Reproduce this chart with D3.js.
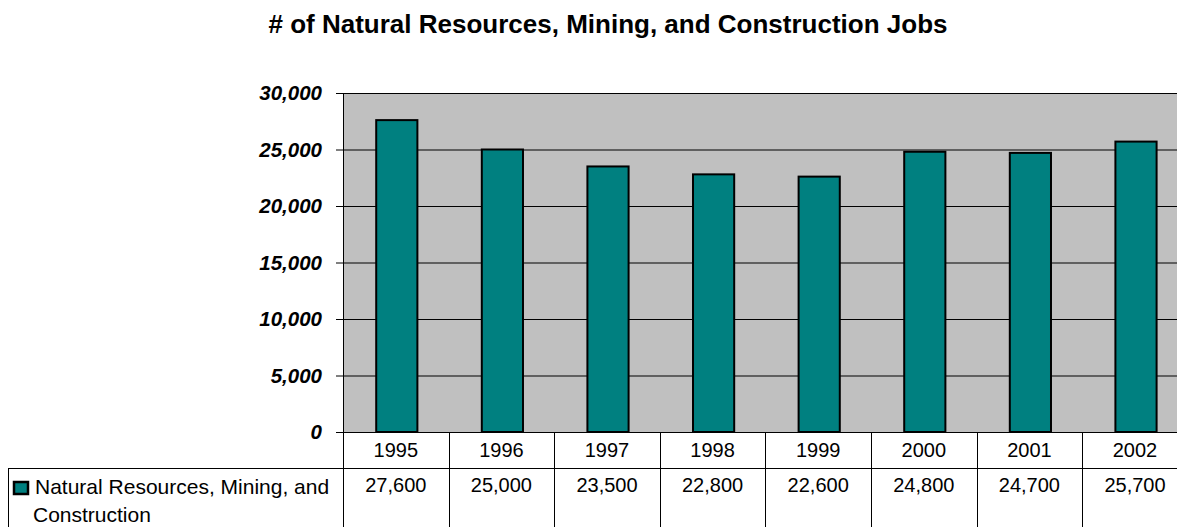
<!DOCTYPE html>
<html>
<head>
<meta charset="utf-8">
<script src="https://cdn.jsdelivr.net/npm/d3@7"></script>
<style>
  body { margin: 0; background: #fff; overflow: hidden; }
  svg { display: block; font-family: Arial, "Liberation Sans", sans-serif; }
</style>
</head>
<body>
<svg id="chart" width="1177" height="527"></svg>
<script>
const years = ["1995", "1996", "1997", "1998", "1999", "2000", "2001", "2002"]
const jobs = [27600, 25000, 23500, 22800, 22600, 24800, 24700, 25700]
const yTicks = [0, 5000, 10000, 15000, 20000, 25000, 30000]
const seriesName = ["Natural Resources, Mining, and", "Construction"]

const svg = d3.select("#chart")

const plotLeft = 343, plotTop = 93, plotBottom = 432,
      bandW = 105.6, plotRight = plotLeft + bandW * years.length

let x = d3.scaleBand().domain(years).range([plotLeft, plotRight]),
    y = d3.scaleLinear().domain([0, 30000]).range([plotBottom, plotTop])

// title
svg.append("text")
    .attr("x", 608).attr("y", 33)
    .attr("text-anchor", "middle")
    .attr("font-size", "26px").attr("font-weight", "bold")
    .text("# of Natural Resources, Mining, and Construction Jobs")

// plot background
svg.append("rect")
    .attr("x", plotLeft).attr("y", plotTop)
    .attr("width", plotRight - plotLeft).attr("height", plotBottom - plotTop)
    .attr("fill", "#c0c0c0")

// y axis with gridlines
svg.append("g")
    .attr("transform", "translate(" + plotLeft + ",0)")
    .call(d3.axisLeft(y).tickValues(yTicks).tickSize(7).tickFormat(d3.format(",")))
    .call(g => g.select(".domain").attr("stroke", "#000"))
    .call(g => g.selectAll(".tick line").attr("stroke", "#000"))
    .call(g => g.selectAll(".tick text")
        .attr("x", -21)
        .attr("font-size", "20.5px").attr("font-weight", "bold").attr("font-style", "italic")
        .attr("font-family", "Arial, 'Liberation Sans', sans-serif")
        .attr("fill", "#000"))

svg.append("g")
    .selectAll("line")
    .data(yTicks)
    .enter()
    .append("line")
    .attr("x1", plotLeft).attr("x2", plotRight)
    .attr("y1", d => y(d) + 0.5).attr("y2", d => y(d) + 0.5)
    .attr("stroke", "#000").attr("stroke-width", 1)

// bars
const barW = bandW * 0.39
svg.append("g")
    .selectAll("rect")
    .data(jobs)
    .enter()
    .append("rect")
    .attr("x", (d, i) => x(years[i]) + bandW / 2 - barW / 2 + 1)
    .attr("y", d => y(d))
    .attr("width", barW)
    .attr("height", d => plotBottom - y(d))
    .attr("fill", "#008080")
    .attr("stroke", "#000").attr("stroke-width", 2)

// data table
const rowMid = 468, tableBottom = 540
const table = svg.append("g").attr("stroke", "#000").attr("stroke-width", 1)

table.append("line")
    .attr("x1", 8).attr("x2", plotRight)
    .attr("y1", rowMid + 0.5).attr("y2", rowMid + 0.5)
table.append("line")
    .attr("x1", 8.5).attr("x2", 8.5)
    .attr("y1", rowMid).attr("y2", tableBottom)

table.selectAll(".vline")
    .data(years.concat(["end"]))
    .enter()
    .append("line")
    .attr("class", "vline")
    .attr("x1", (d, i) => Math.round(plotLeft + i * bandW) + 0.5)
    .attr("x2", (d, i) => Math.round(plotLeft + i * bandW) + 0.5)
    .attr("y1", plotBottom).attr("y2", tableBottom)

svg.append("g")
    .selectAll("text")
    .data(years)
    .enter()
    .append("text")
    .attr("x", d => x(d) + bandW / 2)
    .attr("y", 457)
    .attr("text-anchor", "middle")
    .attr("font-size", "20px")
    .text(d => d)

svg.append("g")
    .selectAll("text")
    .data(jobs)
    .enter()
    .append("text")
    .attr("x", (d, i) => x(years[i]) + bandW / 2)
    .attr("y", 492)
    .attr("text-anchor", "middle")
    .attr("font-size", "20px")
    .text(d => d3.format(",")(d))

// legend key
svg.append("rect")
    .attr("x", 14).attr("y", 482)
    .attr("width", 14).attr("height", 12)
    .attr("fill", "#008080")
    .attr("stroke", "#000").attr("stroke-width", 2.5)

svg.append("text")
    .attr("x", 35).attr("y", 494)
    .attr("font-size", "21px")
    .text(seriesName[0])
svg.append("text")
    .attr("x", 33).attr("y", 522)
    .attr("font-size", "21px")
    .text(seriesName[1])
</script>
</body>
</html>
